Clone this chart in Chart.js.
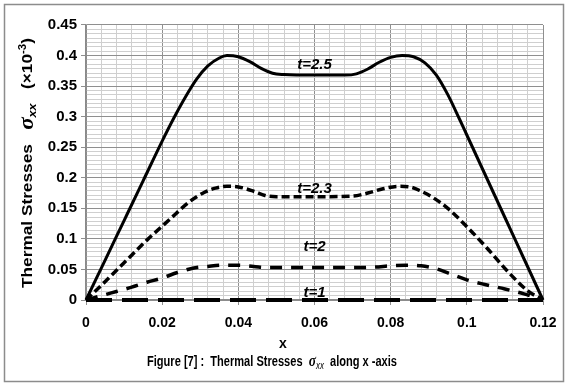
<!DOCTYPE html>
<html>
<head>
<meta charset="utf-8">
<script src="https://cdn.jsdelivr.net/npm/chart.js@4.4.1/dist/chart.umd.min.js"></script>
<style>
  html, body { margin: 0; padding: 0; background: #fff; }
  #wrap { width: 567px; height: 385px; position: relative; }
</style>
</head>
<body>
<div id="wrap"><canvas id="myChart" width="567" height="385"></canvas></div>
<script>
// ___________ data ___________ //
const xTickLabels = ["0", "0.02", "0.04", "0.06", "0.08", "0.1", "0.12"];
const yTickLabels = ["0", "0.05", "0.1", "0.15", "0.2", "0.25", "0.3", "0.35", "0.4", "0.45"];

// t = 2.5 (solid)
const xT25 = [0, 0.005, 0.01, 0.015, 0.02, 0.023, 0.026, 0.029, 0.032, 0.035, 0.037, 0.040, 0.043, 0.046, 0.049, 0.052, 0.06, 0.068, 0.071, 0.074, 0.077, 0.080, 0.083, 0.086, 0.089, 0.092, 0.095, 0.098, 0.1, 0.105, 0.11, 0.115, 0.12];
const yT25 = [0, 0.065, 0.13, 0.195, 0.26, 0.297, 0.331, 0.361, 0.383, 0.396, 0.400, 0.398, 0.390, 0.379, 0.371, 0.369, 0.368, 0.368, 0.370, 0.378, 0.389, 0.397, 0.400, 0.398, 0.388, 0.368, 0.336, 0.297, 0.27, 0.2025, 0.135, 0.0675, 0];

// t = 2.3 (short dash)
const xT23 = [0, 0.005, 0.01, 0.016, 0.022, 0.027, 0.031, 0.034, 0.037, 0.040, 0.044, 0.047, 0.05, 0.06, 0.07, 0.074, 0.078, 0.082, 0.085, 0.088, 0.091, 0.095, 0.1, 0.105, 0.111, 0.116, 0.12];
const yT23 = [0, 0.03, 0.061, 0.098, 0.132, 0.16, 0.176, 0.183, 0.186, 0.185, 0.178, 0.171, 0.169, 0.169, 0.17, 0.175, 0.182, 0.186, 0.185, 0.178, 0.168, 0.15, 0.12, 0.087, 0.045, 0.015, 0];

// t = 2 (dash)
const xT2 = [0, 0.004, 0.008, 0.012, 0.016, 0.02, 0.024, 0.028, 0.032, 0.036, 0.04, 0.044, 0.048, 0.06, 0.072, 0.076, 0.08, 0.084, 0.088, 0.092, 0.096, 0.1, 0.105, 0.11, 0.115, 0.12];
const yT2 = [0, 0.007, 0.014, 0.021, 0.029, 0.036, 0.045, 0.052, 0.055, 0.057, 0.057, 0.055, 0.053, 0.053, 0.053, 0.054, 0.056, 0.057, 0.056, 0.051, 0.042, 0.033, 0.025, 0.018, 0.01, 0];

// t = 1 (long dash)
const xT1 = [0, 0.03, 0.06, 0.09, 0.12];
const yT1 = [0, 0, 0, 0, 0];

// curve labels: text and where they sit (data units)
const curveLabels = ["t=2.5", "t=2.3", "t=2", "t=1"];
const curveLabelX = [0.06, 0.06, 0.06, 0.06];
const curveLabelY = [0.385, 0.182, 0.087, 0.011];

const toPts = (xs, ys) => xs.map((x, i) => ({ x: x, y: ys[i] }));

// ___________ helpers ___________ //
const SANS = "'Liberation Sans', Arial, sans-serif";

// draws runs [text, font, dy] centred on (cx, cy), stretched to a given width
function drawRuns(ctx, runs, cx, cy, fitWidth) {
  let total = 0;
  runs.forEach((r) => { ctx.font = r[1]; total += ctx.measureText(r[0]).width; });
  ctx.save();
  ctx.translate(cx, cy);
  if (fitWidth) ctx.scale(fitWidth / total, 1);
  let x = -total / 2;
  ctx.textBaseline = "middle";
  ctx.textAlign = "left";
  runs.forEach((r) => {
    ctx.font = r[1];
    ctx.fillText(r[0], x, r[2] || 0);
    x += ctx.measureText(r[0]).width;
  });
  ctx.restore();
}

const textPlugin = {
  id: "figureText",
  afterDraw(chart) {
    const ctx = chart.ctx;
    const xs = chart.scales.x, ys = chart.scales.y;
    ctx.save();
    ctx.fillStyle = "#000";

    // curve labels
    ctx.font = "bold italic 15px " + SANS;
    ctx.textAlign = "center";
    ctx.textBaseline = "middle";
    curveLabels.forEach((t, i) => {
      ctx.fillText(t, xs.getPixelForValue(curveLabelX[i]), ys.getPixelForValue(curveLabelY[i]));
    });

    // y axis title (rotated)
    ctx.save();
    ctx.translate(28, 163);
    ctx.rotate(-Math.PI / 2);
    const b15 = "bold 15px " + SANS;
    drawRuns(ctx, [
      ["Thermal Stresses   ", b15, 0],
      ["σ", "bold italic 20px 'Liberation Serif', serif", 0],
      ["xx", "bold italic 11px " + SANS, 5],
      ["   (×10", b15, 0],
      ["-3", "bold 10px " + SANS, -5],
      [")", b15, 0],
    ], 0, 0, 250);
    ctx.restore();

    // x axis title and caption
    const b14 = "bold 14px " + SANS;
    drawRuns(ctx, [["x", b14, 0]], 283, 344);
    drawRuns(ctx, [
      ["Figure [7] :  Thermal Stresses  ", b14, 0],
      ["σ", "bold italic 17px 'Liberation Serif', serif", 0],
      ["xx", "italic 10px " + SANS, 4],
      ["  along x -axis", b14, 0],
    ], 272, 362, 250);

    // outer frame
    ctx.strokeStyle = "#8c8c8c";
    ctx.lineWidth = 1.5;
    ctx.strokeRect(4.5, 4.5, 559, 377);
    ctx.restore();
  },
};

// ___________ chart ___________ //
const X_MINOR = 0.004, Y_MINOR = 0.05 / 7;
const ctx = document.getElementById("myChart").getContext("2d");
const myChart = new Chart(ctx, {
  type: "scatter",
  data: {
    datasets: [
      {
        label: "t=2.5",
        data: toPts(xT25, yT25),
        showLine: true,
        borderColor: "#000",
        borderWidth: 3,
        pointRadius: 0,
        cubicInterpolationMode: "monotone",
      },
      {
        label: "t=2.3",
        data: toPts(xT23, yT23),
        showLine: true,
        borderColor: "#000",
        borderWidth: 3.5,
        borderDash: [8, 4],
        pointRadius: 0,
        cubicInterpolationMode: "monotone",
      },
      {
        label: "t=2",
        data: toPts(xT2, yT2),
        showLine: true,
        borderColor: "#000",
        borderWidth: 3.5,
        borderDash: [12, 9],
        pointRadius: 0,
        cubicInterpolationMode: "monotone",
      },
      {
        label: "t=1",
        data: toPts(xT1, yT1),
        showLine: true,
        borderColor: "#000",
        borderWidth: 4,
        borderDash: [26, 10],
        pointRadius: 0,
      },
    ],
  },
  options: {
    animation: false,
    responsive: false,
    events: [],
    clip: false,
    layout: { padding: { left: 0, right: 24, top: 25, bottom: 0 } },
    plugins: { legend: { display: false }, tooltip: { enabled: false } },
    scales: {
      x: {
        type: "linear",
        min: 0,
        max: 0.12,
        afterFit: (s) => { s.height = 85; },
        afterBuildTicks: (s) => {
          const t = [];
          for (let i = 0; i <= 30; i++) t.push({ value: i * X_MINOR });
          s.ticks = t;
        },
        ticks: {
          autoSkip: false,
          maxRotation: 0,
          padding: 10,
          color: "#000",
          font: { family: SANS, size: 14, weight: "bold" },
          callback: (v, i) => (i % 5 === 0 ? xTickLabels[i / 5] : ""),
        },
        grid: {
          color: (c) => (c.index % 5 === 0 ? "#8f8f8f" : "#cfcfcf"),
          tickColor: (c) => (c.index % 5 === 0 ? "#8f8f8f" : "rgba(0,0,0,0)"),
          tickLength: 5,
          lineWidth: 1,
        },
        border: { color: "#8a8a8a", width: 1.5 },
      },
      y: {
        type: "linear",
        min: 0,
        max: 0.45,
        afterFit: (s) => { s.width = 86; },
        afterBuildTicks: (s) => {
          const t = [];
          for (let i = 0; i <= 63; i++) t.push({ value: i * Y_MINOR });
          s.ticks = t;
        },
        ticks: {
          autoSkip: false,
          padding: 4,
          color: "#000",
          font: { family: SANS, size: 15, weight: "bold" },
          callback: (v, i) => (i % 7 === 0 ? yTickLabels[i / 7] : ""),
        },
        grid: {
          color: (c) => (c.index % 7 === 0 ? "#8f8f8f" : "#cfcfcf"),
          tickColor: (c) => (c.index % 7 === 0 ? "#8f8f8f" : "rgba(0,0,0,0)"),
          tickLength: 5,
          lineWidth: 1,
        },
        border: { color: "#8a8a8a", width: 1.5 },
      },
    },
  },
  plugins: [textPlugin],
});
</script>
</body>
</html>
